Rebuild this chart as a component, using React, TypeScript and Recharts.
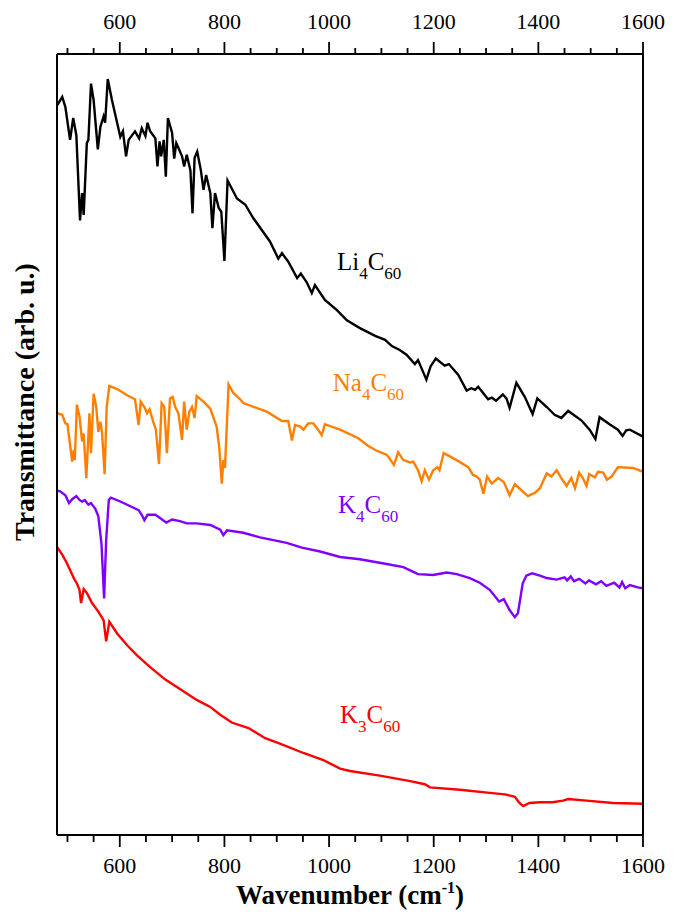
// @ts-nocheck
import React from 'react'
import { LineChart, Line, XAxis, YAxis, ReferenceDot, Label } from 'recharts'

// wavenumber (cm-1), transmittance (arb. u.)
const li4 = [
  [481, 93.5], [490, 94.5], [496, 93.2], [505, 89.0], [511, 91.8], [517, 89.6], [524, 78.7], [528, 82.2],
  [531, 79.4], [537, 88.6], [540, 89.0], [545, 96.2], [550, 94.1], [558, 87.8], [563, 90.7], [569, 92.0],
  [572, 91.2], [577, 96.8], [585, 94.1], [601, 89.4], [606, 90.1], [612, 86.9], [617, 89.0], [629, 90.1],
  [637, 89.2], [642, 90.5], [649, 89.5], [653, 91.2], [658, 90.1], [668, 89.2], [672, 85.6], [676, 88.8],
  [679, 86.9], [684, 89.0], [688, 84.3], [692, 91.8], [700, 89.9], [704, 86.6], [708, 88.6], [712, 88.0],
  [719, 86.9], [723, 85.6], [728, 87.1], [735, 85.1], [739, 79.6], [743, 86.7], [748, 87.5], [755, 85.1],
  [760, 82.6], [765, 84.5], [773, 82.2], [777, 77.7], [782, 82.2], [789, 80.3], [794, 79.8], [800, 73.5],
  [806, 83.8], [824, 81.5], [840, 80.7], [855, 79.0], [887, 76.0], [903, 73.8], [910, 74.5], [922, 73.4],
  [939, 71.3], [946, 71.9], [957, 70.8], [967, 69.4], [973, 70.4], [992, 68.5], [1015, 67.2], [1034, 65.9],
  [1059, 64.9], [1088, 63.9], [1107, 63.4], [1120, 62.6], [1135, 62.1], [1148, 61.5], [1164, 60.3], [1170, 60.8],
  [1186, 58.3], [1194, 60.0], [1204, 61.0], [1221, 60.1], [1229, 60.3], [1247, 58.9], [1263, 56.9], [1272, 57.2],
  [1279, 57.0], [1285, 57.4], [1304, 55.8], [1311, 56.0], [1319, 55.6], [1332, 56.4], [1339, 55.9], [1345, 54.7],
  [1358, 57.9], [1374, 56.1], [1389, 53.9], [1398, 55.9], [1416, 54.8], [1431, 53.8], [1444, 53.4], [1457, 54.3],
  [1482, 53.1], [1498, 51.9], [1509, 50.7], [1517, 53.5], [1536, 52.6], [1552, 51.9], [1561, 51.1], [1568, 51.8],
  [1575, 51.9], [1600, 51.0],
]

const na4 = [
  [480, 54.0], [490, 53.8], [496, 52.7], [500, 52.6], [509, 47.8], [512, 49.3], [514, 48.0], [518, 55.1],
  [523, 53.6], [528, 50.4], [531, 51.4], [536, 45.7], [542, 54.0], [545, 48.9], [550, 56.5], [555, 54.8],
  [559, 51.6], [563, 52.9], [566, 51.6], [571, 46.2], [575, 54.8], [580, 57.5], [595, 57.1], [614, 56.3],
  [629, 55.8], [636, 52.5], [640, 55.5], [647, 54.8], [652, 54.0], [657, 54.5], [664, 52.9], [669, 51.9],
  [675, 47.5], [680, 55.3], [685, 54.8], [690, 48.9], [696, 55.9], [701, 56.1], [706, 54.8], [712, 54.0],
  [719, 50.6], [723, 55.5], [728, 51.9], [733, 54.2], [738, 54.8], [743, 53.4], [747, 56.2], [760, 55.5],
  [773, 54.6], [785, 52.3], [790, 49.7], [795, 45.0], [798, 48.0], [801, 47.0], [808, 57.7], [817, 56.6],
  [830, 55.8], [836, 55.3], [881, 54.2], [910, 53.0], [922, 53.0], [929, 50.5], [935, 52.5], [945, 52.3],
  [951, 51.9], [960, 52.7], [970, 52.7], [979, 51.9], [986, 51.2], [992, 52.6], [1021, 51.9], [1056, 50.8],
  [1075, 49.8], [1091, 49.2], [1110, 48.7], [1124, 47.4], [1132, 49.0], [1142, 48.0], [1155, 47.7], [1161, 47.8],
  [1170, 46.7], [1177, 45.3], [1183, 46.7], [1191, 45.5], [1199, 46.7], [1207, 47.1], [1211, 46.7], [1219, 48.9],
  [1244, 48.0], [1266, 47.1], [1275, 46.1], [1282, 45.9], [1288, 45.5], [1295, 43.7], [1302, 45.9], [1311, 45.0],
  [1323, 45.7], [1334, 45.2], [1345, 43.5], [1355, 44.9], [1365, 44.3], [1380, 43.4], [1393, 43.8], [1403, 44.4],
  [1416, 46.3], [1425, 45.9], [1435, 46.7], [1444, 45.7], [1454, 44.7], [1463, 45.7], [1470, 44.4], [1478, 46.4],
  [1485, 45.7], [1492, 44.7], [1497, 46.2], [1508, 45.8], [1514, 46.5], [1524, 46.4], [1531, 45.5], [1540, 45.9],
  [1552, 47.1], [1581, 47.0], [1600, 46.5],
]

const k4 = [
  [480, 44.1], [486, 44.0], [496, 43.5], [503, 42.5], [509, 43.0], [517, 43.4], [523, 42.9], [528, 42.7],
  [533, 42.9], [540, 42.3], [545, 42.5], [553, 41.8], [559, 40.8], [565, 37.3], [570, 30.3], [574, 37.8],
  [579, 42.9], [583, 43.2], [601, 42.7], [636, 41.6], [642, 41.0], [647, 40.3], [653, 41.0], [668, 41.0],
  [677, 40.6], [689, 40.0], [700, 40.4], [715, 40.2], [728, 39.9], [747, 39.9], [773, 39.7], [792, 39.1],
  [798, 38.4], [805, 39.0], [836, 38.7], [868, 38.1], [919, 37.4], [948, 36.8], [983, 36.3], [1021, 35.6],
  [1059, 35.3], [1110, 34.7], [1142, 34.3], [1161, 33.7], [1170, 33.4], [1199, 33.3], [1225, 33.6], [1244, 33.4],
  [1269, 32.9], [1288, 32.3], [1307, 31.4], [1325, 29.9], [1334, 30.2], [1345, 28.8], [1355, 27.9], [1361, 28.4],
  [1370, 32.2], [1377, 33.2], [1388, 33.5], [1403, 33.2], [1416, 32.9], [1435, 32.7], [1450, 33.0], [1455, 32.6],
  [1462, 33.1], [1468, 32.5], [1478, 32.8], [1490, 32.2], [1497, 32.6], [1510, 32.1], [1520, 32.5], [1530, 31.9],
  [1545, 32.3], [1555, 31.7], [1560, 32.4], [1566, 31.6], [1575, 32.0], [1590, 31.7], [1600, 31.6],
]

const k3 = [
  [480, 36.9], [490, 35.9], [499, 34.8], [512, 32.9], [518, 32.2], [523, 31.4], [526, 29.7], [531, 31.5],
  [537, 31.0], [547, 29.7], [559, 28.6], [569, 27.5], [574, 24.8], [580, 27.3], [595, 25.8], [614, 24.3],
  [633, 23.0], [658, 21.5], [687, 19.9], [715, 18.7], [747, 17.3], [773, 16.4], [792, 15.4], [814, 14.4],
  [846, 13.7], [878, 12.4], [906, 11.7], [951, 10.5], [989, 9.6], [1021, 8.5], [1040, 8.2], [1097, 7.6],
  [1155, 6.9], [1183, 6.5], [1193, 6.1], [1250, 5.8], [1307, 5.4], [1336, 5.2], [1355, 4.9], [1364, 4.1],
  [1371, 3.7], [1383, 4.1], [1403, 4.2], [1427, 4.2], [1447, 4.4], [1457, 4.6], [1492, 4.4], [1543, 4.1],
  [1600, 4.0],
]

const allTicks = [500, 550, 600, 650, 700, 750, 800, 850, 900, 950, 1000, 1050, 1100, 1150, 1200, 1250, 1300, 1350, 1400, 1450, 1500, 1550, 1600]
const majorTicks = [600, 800, 1000, 1200, 1400, 1600]

const series = [
  { name: 'Li', data: li4, color: '#000000', label: ['Li', '4'], at: [1015, 72.3] },
  { name: 'Na', data: na4, color: '#FF8000', label: ['Na', '4'], at: [1007, 56.9] },
  { name: 'K4', data: k4, color: '#8000FF', label: ['K', '4'], at: [1017, 41.2] },
  { name: 'K3', data: k3, color: '#FF0000', label: ['K', '3'], at: [1021, 14.3] },
]

const FONT = "'Liberation Serif', 'Times New Roman', 'DejaVu Serif', serif"

const toRows = (arr) => arr.map(([w, t]) => ({ w, t }))

const BottomTick = ({ x, y, payload }) => {
  const major = majorTicks.includes(payload.value)
  return (
    <g>
      <line x1={x} x2={x} y1={y} y2={y + (major ? 12 : 7)} stroke="#000" strokeWidth={1.8} />
      {major && (
        <text x={x} y={y + 38} textAnchor="middle" fontSize={22} fill="#000" fontFamily={FONT}>{payload.value}</text>
      )}
    </g>
  )
}

const TopTick = ({ x, y, payload }) => {
  const major = majorTicks.includes(payload.value)
  return (
    <g>
      <line x1={x} x2={x} y1={y} y2={y - (major ? 12 : 6)} stroke="#000" strokeWidth={1.8} />
      {major && (
        <text x={x} y={y - 25} textAnchor="middle" fontSize={22} fill="#000" fontFamily={FONT}>{payload.value}</text>
      )}
    </g>
  )
}

const SeriesLabel = (color, [a, b]) => (props) => (
  <text x={props.cx} y={props.cy} fill={color} fontSize={25} fontFamily={FONT}>
    <tspan>{a}</tspan>
    <tspan fontSize={17} dy={9}>{b}</tspan>
    <tspan dy={-9}>C</tspan>
    <tspan fontSize={17} dy={9}>60</tspan>
  </text>
)

export default function App() {
  return (
    <div style={{ width: 681, height: 917, fontFamily: FONT }}>
      <style>{'body{margin:0}'}</style>
      <LineChart width={681} height={917} margin={{ top: 0, right: 37, bottom: 0, left: 56 }}>
        <XAxis xAxisId="b" dataKey="w" type="number" domain={[480, 1600]} ticks={allTicks} interval={0}
          orientation="bottom" height={82} tickSize={0} tickMargin={0} tick={BottomTick}
          axisLine={{ stroke: '#000', strokeWidth: 2 }} allowDataOverflow>
          <Label content={({ viewBox }) => (
            <text x={viewBox.x + viewBox.width / 2} y={viewBox.y + 69} textAnchor="middle" fontSize={27}
              fontWeight="bold" fontFamily={FONT}>
              <tspan>Wavenumber (cm</tspan>
              <tspan fontSize={16} dy={-11}>-1</tspan>
              <tspan dy={11}>)</tspan>
            </text>
          )} />
        </XAxis>
        <XAxis xAxisId="t" dataKey="w" type="number" domain={[480, 1600]} ticks={allTicks} interval={0}
          orientation="top" height={54} tickSize={0} tickMargin={0} tick={TopTick}
          axisLine={{ stroke: '#000', strokeWidth: 2 }} allowDataOverflow />
        <YAxis yAxisId="l" type="number" domain={[0, 100]} width={1} tick={false} tickLine={false}
          axisLine={{ stroke: '#000', strokeWidth: 2 }} allowDataOverflow>
          <Label content={() => (
            <text x={24} y={402} transform="rotate(-90 24 402)" textAnchor="middle" dominantBaseline="central"
              fontSize={28} fontWeight="bold" fontFamily={FONT}>Transmittance (arb. u.)</text>
          )} />
        </YAxis>
        <YAxis yAxisId="r" orientation="right" type="number" domain={[0, 100]} width={1} tick={false} tickLine={false}
          axisLine={{ stroke: '#000', strokeWidth: 2 }} />
        {series.map((s) => (
          <Line key={s.name} xAxisId="b" yAxisId="l" data={toRows(s.data)} dataKey="t" type="linear"
            stroke={s.color} strokeWidth={2.4} dot={false} isAnimationActive={false} />
        ))}
        {series.map((s) => (
          <ReferenceDot key={'lb' + s.name} xAxisId="b" yAxisId="l" x={s.at[0]} y={s.at[1]} r={0}
            shape={SeriesLabel(s.color, s.label)} />
        ))}
      </LineChart>
    </div>
  )
}
